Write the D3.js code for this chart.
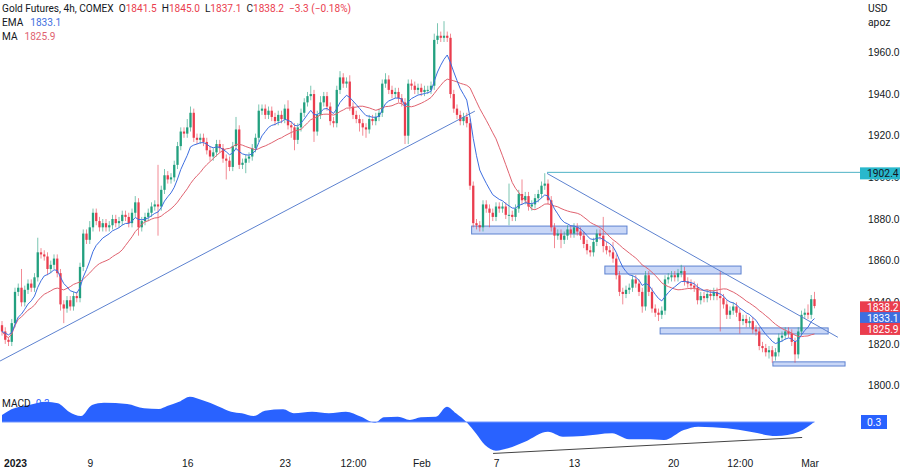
<!DOCTYPE html>
<meta charset="utf-8">
<style>
body { margin: 0; background: #fff; }
svg { display: block; font-family: Roboto, "Noto Sans", sans-serif; }
.ax text { font-size: 10.3px; fill: #131722; }
.ax .domain { display: none; }
.legend text { font-size: 10.1px; fill: #131722; }
</style>
<svg width="900" height="475"></svg>
<script src="https://cdn.jsdelivr.net/npm/d3@7"></script>
<script>

// 4h closes (Jan 3 - Mar 1 2023)
var firstOpen = 1829;
var closes = [
 1826,1822,1821,1830,1845,1847,1840,1846,1849,1847,
 1852,1864,1863,1862,1856,1858,1861,1854,1839,1837,
 1841,1838,1843,1842,1857,1873,1870,1876,1883,1879,
 1876,1878,1876,1877,1880,1878,1879,1882,1881,1878,
 1883,1888,1876,1879,1881,1883,1886,1887,1886,1894,
 1901,1899,1900,1906,1915,1922,1921,1924,1931,1919,
 1918,1919,1917,1913,1910,1912,1916,1914,1909,1908,
 1905,1915,1923,1906,1907,1909,1910,1914,1919,1932,
 1933,1930,1932,1929,1927,1930,1928,1933,1925,1924,
 1918,1924,1931,1936,1939,1940,1922,1930,1936,1939,
 1934,1927,1926,1942,1948,1945,1946,1934,1930,1928,
 1926,1924,1923,1928,1927,1929,1931,1945,1947,1942,
 1940,1941,1938,1936,1920,1945,1944,1942,1943,1941,
 1942,1942,1944,1966,1968,1967,1968,1967,1940,1933,
 1930,1927,1929,1926,1896,1878,1877,1876,1887,1885,
 1883,1881,1886,1885,1886,1882,1882,1881,1885,1892,
 1889,1891,1886,1887,1890,1892,1896,1897,1889,1876,
 1872,1873,1870,1872,1875,1873,1876,1874,1872,1868,
 1865,1864,1869,1873,1872,1867,1865,1864,1861,1853,
 1845,1844,1846,1847,1851,1849,1845,1838,1853,1845,
 1837,1835,1834,1836,1851,1852,1853,1852,1854,1855,
 1850,1849,1848,1847,1841,1843,1842,1844,1843,1845,
 1843,1842,1839,1834,1836,1838,1835,1831,1832,1830,
 1831,1827,1826,1819,1818,1816,1817,1814,1816,1823,
 1824,1826,1825,1821,1815,1826,1834,1835,1834,1841.5,
 1838.2
];
// wick length above / below the body, in dollars
var upWick = [
 2,2,1,2,2,2,9,2,2,2, 2,7,2,2,2,2,2,2,2,2, 2,2,2,2,2,2,2,3,2,2, 2,2,2,2,2,2,2,2,2,2,
 2,3,2,2,2,2,2,2,19,2, 3,2,2,2,2,2,2,4,3,2, 2,2,2,2,2,2,2,2,2,2, 2,2,6,2,2,2,2,2,2,3,
 2,2,2,2,2,2,2,2,4,2, 2,2,2,2,2,4,2,2,3,2, 2,2,2,2,3,2,2,3,2,2, 2,2,2,2,2,2,2,2,3,2,
 2,2,2,2,2,2,2,2,2,2, 2,2,2,3,6,2,7,2,2,2, 2,2,2,2,2,2,2,2,2,2, 2,2,2,2,2,2,15,2,2,2,
 7,2,2,2,2,2,2,5,2,2, 2,2,2,2,2,2,2,2,2,2, 2,2,2,2,2,9,2,2,5,2, 2,2,2,2,2,2,2,2,2,2,
 2,2,2,2,2,2,2,2,2,3, 2,2,2,2,2,2,2,2,2,2, 2,12,2,2,2,2,2,2,2,2, 2,2,2,2,2,2,2,2,2,2,
 2,2,2,2,2,2,2,2,4,2, 3.5
];
var downWick = [
 2,2,2,2,2,2,2,2,2,2, 2,2,2,2,3,2,2,2,3,7, 2,2,2,2,2,2,2,2,2,2, 2,2,2,2,2,2,2,2,2,2,
 2,2,4,2,2,2,2,2,14,2, 2,2,2,2,2,2,2,2,2,2, 2,2,2,2,2,2,2,2,2,9, 2,2,2,2,2,5,2,2,2,2,
 2,2,2,2,2,2,2,2,2,5, 5,2,2,2,2,2,5,2,2,2, 2,2,2,2,2,2,2,2,2,2, 4,4,4,2,2,2,2,2,2,2,
 2,2,2,2,4,4,2,2,2,2, 2,2,2,2,2,2,2,2,2,2, 2,2,2,2,2,2,2,2,2,2, 7,2,2,2,2,2,5,2,2,2,
 2,2,2,2,2,2,2,2,2,2, 6,2,4,2,2,2,2,2,2,2, 2,2,2,2,2,3,2,2,2,2, 2,5,2,2,2,2,2,3,2,2,
 2,2,3,2,2,2,2,2,2,2, 2,2,2,2,2,2,2,2,2,2, 2,16,2,2,2,2,2,6,2,2, 2,2,2,2,2,2,3,3,2,2,
 2,2,2,2,4,2,2,2,2,2, 1.1
];

// legend values of the last bar
var lastHigh = 1845.0, lastLow = 1837.1, change = "\u22123.3 (\u22120.18%)";
var emaLast = 1833.1, maLast = 1825.9, macdLast = 0.3;

// MACD line, sampled along the bars: [bar, value]
var macdBar = [0,2.9,8.3,13.5,17.2,20.6,24.3,27.7,31.4,38.5,43.7,48.3,50.8,54.5,57.8,61.5,66.8,70.5,73.8,77.5,
  80.9,86.5,89.8,95.4,100.6,105.8,110.5,114.8,117.5,121.8,125.5,128.9,133.5,136.9,139.7,143.1,145.8,148.6,152,155.7,
  160.9,168,172.6,178.8,187.7,192.9,198.2,203.7,209.8,214.2,223.1,230.2,238.2,245.2,250];
var macdVal = [5.8,10.6,14.2,16.9,15.6,8.6,5,14.2,16.1,15,11.4,10.8,13.3,16.9,21.1,18.3,12.8,8.6,7.3,5,
  9.4,10.6,7.3,8.6,7.3,8.6,4.4,-0.6,3.9,4.4,1.7,3.9,4.4,12.8,7.3,-0.6,-9.4,-19.2,-23.9,-21.9,
  -16.4,-8.1,-12.2,-11.7,-9.4,-14.4,-14.4,-15,-6.7,-3.9,-5.2,-8.1,-11.7,-8.1,0.3];

// drawings: [bar, price]
var riseLine = [[-0.6, 1811.8], [145.5, 1931.8]];
var fallLine = [[167.7, 1901.9], [257.2, 1823.2]];
var resistance = 1902.4;
var zones = [[144.5, 192.3, 1872.8, 1876.6], [185.5, 227.4, 1853.6, 1857.4],
             [202.5, 254.2, 1824.8, 1827.7], [237.2, 259.4, 1809.4, 1811.4]];
var macdTrend = [[151.1, -26.2], [246.2, -12.9]];

var priceTicks = [1800, 1820, 1840, 1860, 1880, 1900, 1920, 1940, 1960];
var timeLabels = ["2023", "9", "16", "23", "12:00", "Feb", "7", "13", "20", "12:00", "Mar"];
var timeBars = [4, 27, 57, 87, 108, 129, 152, 176, 206.5, 227, 248.5];

var upCol = "#22a07f", downCol = "#ea3d4e", emaCol = "#3d6ee0", maCol = "#e0626f",
    drawCol = "#5d82d0";

var svg = d3.select("svg");
var x = d3.scaleLinear().domain([0, 250]).range([2, 814.5]);
var y = d3.scaleLinear().domain([1800, 1960]).range([385.6, 52.4]);
var ym = d3.scaleLinear().domain([-27.5, 25]).range([455, 392]);
var f1 = d3.format(".1f");

var bars = closes.map(function (c, i) {
  var o = i ? closes[i - 1] : firstOpen;
  return { i: i, o: o, c: c, h: Math.max(o, c) + upWick[i], l: Math.min(o, c) - downWick[i] };
});

// EMA 9 and MA 20 on the closes
var ema = [], ma = [], k = 2 / 10;
closes.forEach(function (c, i) {
  ema.push(i ? c * k + ema[i - 1] * (1 - k) : c);
  var w = closes.slice(Math.max(0, i - 19), i + 1);
  ma.push(d3.mean(w));
});

var plot = svg.append("g");

// zones
plot.selectAll(".zone").data(zones).enter().append("rect")
  .attr("x", function (d) { return x(d[0]); })
  .attr("width", function (d) { return x(d[1]) - x(d[0]); })
  .attr("y", function (d) { return y(d[3]); })
  .attr("height", function (d) { return y(d[2]) - y(d[3]); })
  .attr("fill", "#c9d7f7").attr("stroke", drawCol).attr("stroke-width", 1);

// candles
var cg = plot.selectAll(".bar").data(bars).enter().append("g");
cg.append("line")
  .attr("x1", function (d) { return x(d.i); }).attr("x2", function (d) { return x(d.i); })
  .attr("y1", function (d) { return y(d.h); }).attr("y2", function (d) { return y(d.l); })
  .attr("stroke", function (d) { return d.c >= d.o ? upCol : downCol; })
  .attr("stroke-width", 0.8).attr("opacity", 0.75);
cg.append("rect")
  .attr("x", function (d) { return x(d.i) - 1.15; })
  .attr("width", 2.3)
  .attr("y", function (d) { return y(Math.max(d.o, d.c)); })
  .attr("height", function (d) { return Math.max(1, Math.abs(y(d.o) - y(d.c))); })
  .attr("fill", function (d) { return d.c >= d.o ? upCol : downCol; });

var line = d3.line().x(function (d, i) { return x(i); }).y(function (d) { return y(d); });
plot.append("path").attr("d", line(ma)).attr("fill", "none").attr("stroke", maCol).attr("stroke-width", 1);
plot.append("path").attr("d", line(ema)).attr("fill", "none").attr("stroke", emaCol).attr("stroke-width", 1);

// trend lines and resistance
var seg = d3.line().x(function (d) { return x(d[0]); }).y(function (d) { return y(d[1]); });
[riseLine, fallLine].forEach(function (l) {
  plot.append("path").attr("d", seg(l)).attr("stroke", drawCol).attr("stroke-width", 1).attr("fill", "none");
});
plot.append("line")
  .attr("x1", x(fallLine[0][0])).attr("x2", 860)
  .attr("y1", y(resistance)).attr("y2", y(resistance))
  .attr("stroke", "#4fb3c6").attr("stroke-width", 1);

// MACD panel
var area = d3.area().curve(d3.curveMonotoneX)
  .x(function (d) { return x(d[0]); })
  .y0(ym(0)).y1(function (d) { return ym(d[1]); });
var macd = macdBar.map(function (b, i) { return [b, macdVal[i]]; });
svg.append("path").attr("d", area(macd)).attr("fill", "#2962ff");
svg.append("line").attr("x1", x(0)).attr("x2", x(250)).attr("y1", ym(0)).attr("y2", ym(0))
  .attr("stroke", "#6f93ff").attr("stroke-width", 1);
svg.append("line")
  .attr("x1", x(macdTrend[0][0])).attr("y1", ym(macdTrend[0][1]))
  .attr("x2", x(macdTrend[1][0])).attr("y2", ym(macdTrend[1][1]))
  .attr("stroke", "#444").attr("stroke-width", 1);

// axes
svg.append("g").attr("class", "ax")
  .attr("transform", "translate(864,0)")
  .call(d3.axisRight(y).tickValues(priceTicks).tickFormat(f1).tickSize(0).tickPadding(4));
svg.append("g").attr("class", "ax")
  .attr("transform", "translate(0,460)")
  .call(d3.axisBottom(x).tickValues(timeBars).tickSize(0).tickPadding(0)
    .tickFormat(function (d, i) { return timeLabels[i]; }))
  .selectAll("text").style("font-weight", function (d, i) { return i ? null : "bold"; });

svg.append("text").attr("x", 868).attr("y", 12).attr("font-size", 10.3).attr("fill", "#131722").text("USD");
svg.append("text").attr("x", 868).attr("y", 26).attr("font-size", 10.3).attr("fill", "#131722").text("apoz");

// price labels on the scale
function tag(yc, val, fill, txt, w) {
  svg.append("rect").attr("x", 860).attr("y", yc - 6).attr("width", w || 40).attr("height", 12).attr("fill", fill);
  svg.append("text").attr("x", 867).attr("y", yc + 4).attr("font-size", 10.3).attr("fill", txt).text(val);
}
tag(y(resistance) + 1, f1(resistance), "#29b8cc", "#131722");
var last = [[closes[250], downCol], [emaLast, emaCol], [maLast, downCol]];
var mid = d3.mean(last, function (d) { return y(d[0]); });
last.forEach(function (d, i) {
  tag(mid + (i - 1) * 10.8, f1(d[0]), d[1], "#fff");
});
svg.append("rect").attr("x", 861).attr("y", ym(0) - 7).attr("width", 26).attr("height", 14).attr("fill", "#2962ff");
svg.append("text").attr("x", 867).attr("y", ym(0) + 4).attr("font-size", 10.3).attr("fill", "#fff").text(macdLast);

// legend: items laid out one after another with a fixed gap
var lb = bars[250];
var head = svg.append("g").attr("class", "legend");
function row(yy, items) {
  var cx = 2;
  items.forEach(function (it) {
    var t = head.append("text").attr("x", cx).attr("y", yy);
    t.append("tspan").text(it[0]);
    t.append("tspan").style("fill", it[2]).attr("dx", it[3] || 0).text(it[1]);
    cx += t.node().getComputedTextLength() + (it[3] || 0) + 5;
  });
}
row(12, [["Gold Futures, 4h, COMEX", "", downCol],
  ["O", f1(lb.o), downCol], ["H", f1(lastHigh), downCol], ["L", f1(lastLow), downCol],
  ["C", f1(lb.c), downCol], ["", change, downCol]]);
row(26, [["EMA", f1(emaLast), emaCol, 7]]);
row(40, [["MA", f1(maLast), maCol, 7]]);
row(407, [["MACD", macdLast, "#2962ff", 5]]);

</script>
